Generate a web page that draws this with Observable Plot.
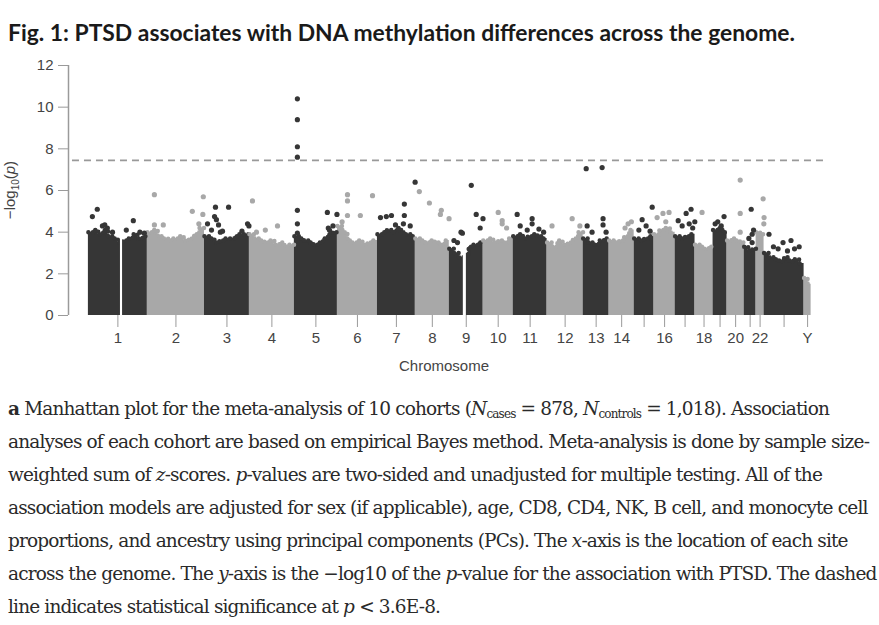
<!DOCTYPE html>
<html><head><meta charset="utf-8">
<script src="https://cdn.jsdelivr.net/npm/d3@7"></script>
<script src="https://cdn.jsdelivr.net/npm/@observablehq/plot@0.6"></script>
<style>
body{margin:0;background:#fff;width:879px;height:625px;overflow:hidden;position:relative}
#title{position:absolute;left:8px;top:19px;font:700 22px Lato, sans-serif;line-height:26px;color:#1a1a1a;white-space:nowrap}
#chart{position:absolute;left:0;top:50px}
#caption{position:absolute;left:8px;top:392px;font:18.5px "DejaVu Serif", serif;line-height:33px;color:#2a2a2a;white-space:nowrap}
#caption sub{font-size:12px;line-height:0;vertical-align:-3px}
</style></head><body>
<div id="title"><span>Fig. 1: PTSD associates with DNA methylation differences across the genome.</span></div>
<div id="chart"></div>
<div id="caption">
<div><span id="cap1"><b>a</b> Manhattan plot for the meta-analysis of 10 cohorts (<i>N</i><sub>cases</sub> = 878, <i>N</i><sub>controls</sub> = 1,018). Association</span></div>
<div>analyses of each cohort are based on empirical Bayes method. Meta-analysis is done by sample size-</div>
<div>weighted sum of <i>z</i>-scores. <i>p</i>-values are two-sided and unadjusted for multiple testing. All of the</div>
<div>association models are adjusted for sex (if applicable), age, CD8, CD4, NK, B cell, and monocyte cell</div>
<div>proportions, and ancestry using principal components (PCs). The <i>x</i>-axis is the location of each site</div>
<div>across the genome. The <i>y</i>-axis is the −log10 of the <i>p</i>-value for the association with PTSD. The dashed</div>
<div>line indicates statistical significance at <i>p</i> &lt; 3.6E-8.</div>
</div>
<script>
// ---- data ----
const chromosomes = ["1","2","3","4","5","6","7","8","9","10","11","12","13","14","15","16","17","18","19","20","21","22","X","Y"];
const chromSpanMb = [252,244,192,192,184,171,162,145,145,128,145,154,111,107,85,90,85,77,60,73,51,34,171,30];
const tickLabels = ["1","2","3","4","5","6","7","8","9","10","11","12","13","14","","16","","18","","20","","22","","Y"];
// top of the dense cloud of sites, evenly spaced along each chromosome (-log10 p)
const envelopeTop = [
  [4.0,4.1,3.9,4.1,3.8,3.7,3.5,3.6,3.7,3.9,3.7,3.8],
  [4.0,4.1,3.8,3.7,3.6,3.7,3.8,3.6,3.7,3.9,4.2],
  [3.8,3.7,3.5,3.6,3.7,3.7,3.8,3.9,3.9],
  [3.9,3.7,3.6,3.5,3.6,3.4,3.5,3.3,3.4],
  [3.8,3.7,3.6,3.5,3.4,3.5,3.7,3.9,4.0],
  [4.3,4.0,3.6,3.5,3.6,3.4,3.5,3.6],
  [3.9,4.0,4.1,4.0,4.2,4.0,3.9,3.8],
  [3.7,3.6,3.5,3.6,3.5,3.4,3.6],
  [3.2,3.0,2.8,2.9,3.3,3.4,3.5],
  [3.6,3.7,3.5,3.6,3.5,3.7],
  [3.8,3.9,3.7,3.8,3.9,3.8,3.7],
  [3.5,3.3,3.6,3.4,3.5,3.7,4.0],
  [3.7,3.5,3.4,3.6,3.7],
  [3.6,3.5,3.6,3.8,4.1],
  [3.7,3.6,3.7,3.8],
  [3.9,4.1,4.2,4.0],
  [3.8,3.7,3.8,3.9],
  [3.4,3.3,3.2,3.3],
  [4.1,4.2,4.0],
  [3.6,3.7,3.6,3.5],
  [3.3,3.1,3.2],
  [4.0,3.9],
  [3.0,2.8,2.7,2.6,2.8,2.6,2.7,2.5],
  [1.8,1.5]
];
// regions without sites (centromeres): [chromosome, start Mb, end Mb]
const gaps = [["1",137,146],["9",60,73]];
// individual sites standing above the cloud: [chromosome, position Mb, -log10 p]
const hits = [
  ["1",17,4.75],["1",38,5.1],["1",81,4.2],["1",103,4.0],["1",162,4.1],["1",192,4.55],["1",239,3.95],["1",60,4.3],["1",70,4.35],["1",220,4.0],
  ["2",30,5.8],["2",30,4.35],["2",68,4.35],["2",192,5.0],["2",239,5.7],["2",237,4.85],["2",220,4.4],
  ["3",47,5.2],["3",103,5.2],["3",43,4.75],["3",51,4.6],["3",60,4.35],["3",13,4.4],["3",68,4.0],["3",184,4.4],["3",190,4.3],["3",30,4.1],["3",77,4.05],["3",160,4.05],
  ["4",13,5.5],["4",120,4.3],["4",68,4.1],["4",30,4.0],
  ["5",13,10.4],["5",13,9.4],["5",13,8.1],["5",13,7.6],["5",13,5.05],["5",13,4.4],["5",13,3.95],["5",141,4.95],["5",182,4.85],["5",145,4.2],["5",150,4.1],["5",165,4.3],
  ["6",43,5.8],["6",43,5.5],["6",150,5.75],["6",98,4.8],["6",43,4.8],["6",20,4.5],
  ["7",115,5.35],["7",115,4.8],["7",60,4.8],["7",38,4.75],["7",13,4.7],["7",161,6.4],["7",77,4.35],["7",111,4.4],["7",90,4.1],["7",140,4.3],
  ["8",17,5.95],["8",60,5.4],["8",111,5.05],["8",107,4.85],["8",144,4.65],
  ["9",94,6.25],["9",115,4.85],["9",144,4.65],["9",132,4.2],["9",50,4.0],["9",56,3.95],["9",20,3.6],["9",35,3.5],
  ["10",64,4.95],["10",81,4.55],["10",81,4.4],["10",100,4.2],
  ["11",17,4.85],["11",81,4.65],["11",81,4.4],["11",30,4.3],["11",60,4.1],["11",110,4.15],["11",130,4.0],
  ["12",107,4.65],["12",21,4.3],["12",140,4.3],
  ["13",13,7.05],["13",81,7.1],["13",85,4.65],["13",85,4.35],["13",17,4.3],["13",38,4.0],["13",98,4.0],
  ["14",81,4.4],["14",68,4.2],["14",95,4.5],
  ["15",77,5.2],["15",34,4.6],["15",51,4.3],["15",68,4.05],["15",20,4.1],
  ["16",13,4.7],["16",38,4.9],["16",64,4.95],["16",50,4.5],
  ["17",68,5.1],["17",47,4.9],["17",13,4.55],["17",84,4.5],["17",30,4.3],["17",60,4.4],["17",75,4.2],
  ["18",30,4.95],
  ["19",47,4.75],["19",9,4.4],["19",20,4.5],["19",35,4.3],
  ["20",56,6.5],["20",56,4.9],["20",56,4.0],
  ["21",30,5.1],["21",34,3.9],["21",34,3.5],["21",20,3.7],["21",40,4.1],
  ["22",30,5.6],["22",34,4.7],["22",33,4.4],
  ["X",21,3.9],["X",81,3.5],["X",115,3.6],["X",150,3.3],["X",40,3.3],["X",60,3.2],["X",100,3.1],["X",130,3.2]
];
const significanceP = 3.6e-8;
const yTicks = [0,2,4,6,8,10,12];
const darkColor = "#363636", lightColor = "#a8a8a8";

// ---- derived tables ----
const offset = new Map(), colorOf = new Map();
let acc = 0;
chromosomes.forEach((c, i) => { offset.set(c, acc); colorOf.set(c, i % 2 === 0 ? darkColor : lightColor); acc += chromSpanMb[i]; });
const mids = chromosomes.map((c, i) => offset.get(c) + chromSpanMb[i] / 2);
const labelAt = new Map(mids.map((m, i) => [m, tickLabels[i]]));
const envData = [];
chromosomes.forEach((c, i) => {
  const h = envelopeTop[i], step = chromSpanMb[i] / h.length, o = offset.get(c);
  h.forEach((v, j) => envData.push({chr: c, x: o + j * step, y: v}));
  envData.push({chr: c, x: o + chromSpanMb[i], y: h[h.length - 1]});
});
const threshold = -Math.log10(significanceP);

const plot = Plot.plot({
  width: 879, height: 330,
  marginLeft: 68, marginRight: 52, marginTop: 15, marginBottom: 65,
  x: {domain: [-85, 3158]},
  y: {domain: [0, 12]},
  style: {fontFamily: "'Liberation Sans', Arial, sans-serif", fontSize: "15px", background: "white"},
  marks: [
    Plot.areaY(envData, {x: "x", y1: 0, y2: "y", z: "chr", fill: d => colorOf.get(d.chr), curve: "step-after"}),
    Plot.line(envData, {x: "x", y: "y", z: "chr", stroke: d => colorOf.get(d.chr), strokeWidth: 4.5, strokeDasharray: "0 4.5", strokeLinecap: "round", curve: "step-after"}),
    Plot.rectY(gaps, {x1: d => offset.get(d[0]) + d[1], x2: d => offset.get(d[0]) + d[2], y1: 0, y2: d => 4.3, fill: "white"}),
    Plot.dot(hits, {x: d => offset.get(d[0]) + d[1], y: d => d[2], r: 2.6, fill: d => colorOf.get(d[0]), stroke: "none"}),
    Plot.ruleY([threshold], {x1: -68, x2: 3158, stroke: "#999", strokeWidth: 1.6, strokeDasharray: "7 5"}),
    Plot.ruleX([-85], {y1: 0, y2: 12, stroke: "#9a9a9a", strokeWidth: 1.5}),
    Plot.axisY({ticks: yTicks, tickSize: 10, tickPadding: 5, label: null, stroke: "#9a9a9a", fill: "#444"}),
    Plot.axisX({ticks: mids, tickFormat: d => labelAt.get(d), tickSize: 12, tickPadding: 5, label: null, stroke: "#9a9a9a", fill: "#444"}),
    Plot.text(["Chromosome"], {frameAnchor: "bottom", dy: 55, dx: -4, fill: "#444", fontSize: 15})
  ]
});
document.getElementById("chart").appendChild(plot);
// y-axis title with subscript and italic p
const yl = d3.select(plot).append("text")
  .attr("transform", "translate(15,140) rotate(-90)")
  .attr("text-anchor", "middle").attr("fill", "#444")
  .style("font-size", "15px");
yl.append("tspan").text("−log");
yl.append("tspan").attr("dy", 4).style("font-size", "10px").text("10");
yl.append("tspan").attr("dy", -4).text("(");
yl.append("tspan").style("font-style", "italic").text("p");
yl.append("tspan").text(")");

// fit the text blocks to the widths they take in the figure
const titleSpan = document.querySelector("#title span");
const tw = titleSpan.getBoundingClientRect().width;
document.getElementById("title").style.fontSize = (22 * 787 / tw).toFixed(2) + "px";
const cap1 = document.getElementById("cap1");
const cw = cap1.getBoundingClientRect().width;
const nChars = cap1.textContent.length;
document.getElementById("caption").style.letterSpacing = ((821 - cw) / nChars).toFixed(3) + "px";
</script>
</body></html>
